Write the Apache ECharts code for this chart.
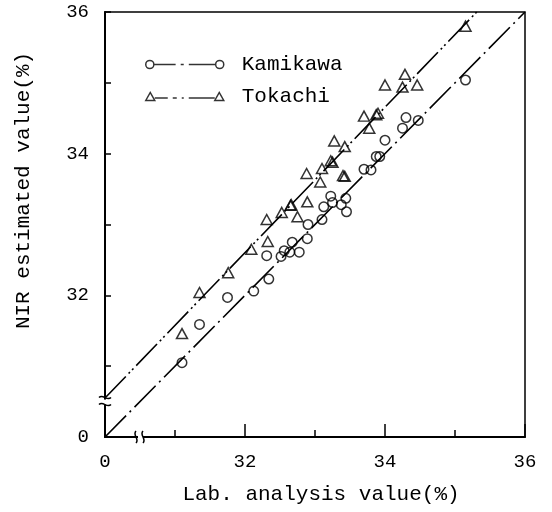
<!DOCTYPE html>
<html><head><meta charset="utf-8">
<script src="https://cdn.jsdelivr.net/npm/echarts@6/dist/echarts.min.js"></script>
<style>html,body{margin:0;padding:0;background:#fff}#c{width:552px;height:512px}</style>
</head><body><div id="c"></div>
<script>
// ---- data ----
const seriesNames = ['Kamikawa', 'Tokachi'];
const kamikawaLab = [31.10, 31.35, 31.75, 32.125, 32.31, 32.34, 32.515, 32.56, 32.64, 32.675, 32.775, 32.89, 32.90, 33.10, 33.125, 33.225, 33.25, 33.375, 33.44, 33.45, 33.70, 33.80, 33.875, 33.925, 34.00, 34.25, 34.30, 34.475, 35.15];
const kamikawaNir = [31.05, 31.59, 31.97, 32.06, 32.56, 32.23, 32.55, 32.63, 32.61, 32.75, 32.61, 32.80, 33.00, 33.07, 33.25, 33.40, 33.31, 33.28, 33.37, 33.18, 33.78, 33.77, 33.96, 33.96, 34.19, 34.36, 34.51, 34.47, 35.04];
const tokachiLab = [31.10, 31.35, 31.76, 32.09, 32.31, 32.325, 32.525, 32.65, 32.66, 32.75, 32.88, 32.89, 33.075, 33.10, 33.225, 33.25, 33.275, 33.40, 33.425, 33.425, 33.70, 33.775, 33.875, 33.90, 34.00, 34.25, 34.285, 34.46, 35.15];
const tokachiNir = [31.46, 32.04, 32.32, 32.65, 33.07, 32.76, 33.17, 33.27, 33.28, 33.11, 33.72, 33.32, 33.60, 33.79, 33.90, 33.88, 34.18, 33.69, 34.10, 33.68, 34.53, 34.36, 34.55, 34.57, 34.97, 34.94, 35.12, 34.97, 35.80];
const kamikawaFitLab = [30, 36];
const kamikawaFitNir = [30, 36];
const tokachiFitLab = [30, 35.31];
const tokachiFitNir = [30.55, 36];
const tickValues = [30, 32, 34, 36];
const tickLabels = ['0', '32', '34', '36'];
const axisBreakAt = 30.5;
const xTitle = 'Lab. analysis value(%)';
const yTitle = 'NIR estimated value(%)';

// ---- chart ----
const FONT = '"Liberation Mono", "DejaVu Sans Mono", monospace';
const zip = (a, b) => a.map((v, i) => [v, b[i]]);
const fmt = v => { const i = tickValues.indexOf(v); return i >= 0 ? tickLabels[i] : ''; };

const kamiIcon = 'path://M0.5,4.5 A4,4 0 1,1 8.5,4.5 A4,4 0 1,1 0.5,4.5 Z M8.5,4.5 L30,4.5 M35,4.5 L38,4.5 M43,4.5 L69.5,4.5 M69.5,4.5 A4,4 0 1,1 77.5,4.5 A4,4 0 1,1 69.5,4.5 Z';
const tokaIcon = 'path://M0,8.5 L4.5,0.5 L9,8.5 Z M9,6 L22,6 M27,6 L31,6 M36,6 L38,6 M43,6 L69,6 M69,8.5 L73.5,0.5 L78,8.5 Z';

const chart = echarts.init(document.getElementById('c'), null, {renderer: 'canvas'});
const axisCommon = {
  type: 'value', min: 30, max: 36, interval: 2,
  axisLine: {show: true, onZero: false, lineStyle: {color: '#000', width: 2}},
  splitLine: {show: false},
  axisLabel: {formatter: fmt, color: '#000', fontFamily: FONT, fontSize: 19},
  nameLocation: 'middle',
  nameTextStyle: {color: '#000', fontFamily: FONT, fontSize: 21}
};
const option = {
  backgroundColor: '#fff',
  animation: false,
  grid: {left: 105, right: 27, top: 12, bottom: 75, show: true, borderColor: '#000', borderWidth: 1.5},
  xAxis: Object.assign({}, axisCommon, {
    name: xTitle, nameGap: 47,
    nameTextStyle: Object.assign({}, axisCommon.nameTextStyle, {padding: [0, 0, 0, 12]}),
    axisTick: {show: true, inside: true, length: 13, lineStyle: {color: '#000', width: 1.5}},
    minorTick: {show: true, splitNumber: 2, length: 7, lineStyle: {color: '#000', width: 1.5}},
    axisLabel: Object.assign({}, axisCommon.axisLabel, {margin: 15})
  }),
  yAxis: Object.assign({}, axisCommon, {
    name: yTitle, nameGap: 71,
    nameTextStyle: Object.assign({}, axisCommon.nameTextStyle, {padding: [0, 0, 0, 68]}),
    axisTick: {show: true, inside: true, length: 6, lineStyle: {color: '#000', width: 1.5}},
    minorTick: {show: true, splitNumber: 2, length: 6, lineStyle: {color: '#000', width: 1.5}},
    axisLabel: Object.assign({}, axisCommon.axisLabel, {margin: 16})
  }),
  legend: {
    orient: 'vertical', left: 140, top: 49,
    itemWidth: 78, itemHeight: 9, itemGap: 11, selectedMode: false,
    textStyle: {color: '#000', fontFamily: FONT, fontSize: 21, lineHeight: 21, padding: [0, 0, 0, 13]},
    data: [
      {name: seriesNames[0], icon: kamiIcon, itemStyle: {color: '#fff', borderColor: '#000', borderWidth: 1.5}},
      {name: seriesNames[1], icon: tokaIcon, itemStyle: {color: '#fff', borderColor: '#000', borderWidth: 1.5}}
    ]
  },
  series: [
    {type: 'line', name: seriesNames[0] + ' fit', data: zip(kamikawaFitLab, kamikawaFitNir), symbol: 'none', silent: true, z: 1,
     lineStyle: {color: '#000', width: 1.6, type: [30, 5, 2, 5]}},
    {type: 'line', name: seriesNames[1] + ' fit', data: zip(tokachiFitLab, tokachiFitNir), symbol: 'none', silent: true, z: 1,
     lineStyle: {color: '#000', width: 1.6, type: [30, 4, 2, 3, 2, 4]}},
    {type: 'scatter', name: seriesNames[0], data: zip(kamikawaLab, kamikawaNir), symbol: 'circle', symbolSize: 9.5, z: 3,
     itemStyle: {color: 'rgba(0,0,0,0)', borderColor: '#000', borderWidth: 1.5}},
    {type: 'scatter', name: seriesNames[1], data: zip(tokachiLab, tokachiNir), symbol: 'triangle', symbolSize: [11, 10], z: 3,
     itemStyle: {color: 'rgba(0,0,0,0)', borderColor: '#000', borderWidth: 1.5}}
  ]
};
chart.setOption(option);

// axis break marks
const bx = chart.convertToPixel({gridIndex: 0}, [axisBreakAt, 30]);
const by = chart.convertToPixel({gridIndex: 0}, [30, axisBreakAt]);
const st = {stroke: '#000', lineWidth: 1.5, fill: 'none'};
const xb = bx[0], xAxisY = bx[1], yb = by[1], yAxisX = by[0];
chart.setOption({graphic: [
  {type: 'rect', shape: {x: xb - 2, y: xAxisY - 3, width: 5, height: 6}, style: {fill: '#fff'}, z: 100},
  {type: 'bezierCurve', shape: {x1: xb - 4, y1: xAxisY + 6, x2: xb - 4, y2: xAxisY - 6, cpx1: xb, cpy1: xAxisY + 2, cpx2: xb - 8, cpy2: xAxisY - 2}, style: st, z: 101},
  {type: 'bezierCurve', shape: {x1: xb + 3, y1: xAxisY + 6, x2: xb + 3, y2: xAxisY - 6, cpx1: xb + 7, cpy1: xAxisY + 2, cpx2: xb - 1, cpy2: xAxisY - 2}, style: st, z: 101},
  {type: 'rect', shape: {x: yAxisX - 3, y: yb - 2, width: 6, height: 5}, style: {fill: '#fff'}, z: 100},
  {type: 'bezierCurve', shape: {x1: yAxisX - 6, y1: yb - 4, x2: yAxisX + 6, y2: yb - 4, cpx1: yAxisX - 2, cpy1: yb - 8, cpx2: yAxisX + 2, cpy2: yb}, style: st, z: 101},
  {type: 'bezierCurve', shape: {x1: yAxisX - 6, y1: yb + 3, x2: yAxisX + 6, y2: yb + 3, cpx1: yAxisX - 2, cpy1: yb - 1, cpx2: yAxisX + 2, cpy2: yb + 7}, style: st, z: 101}
]});
</script>
</body></html>
